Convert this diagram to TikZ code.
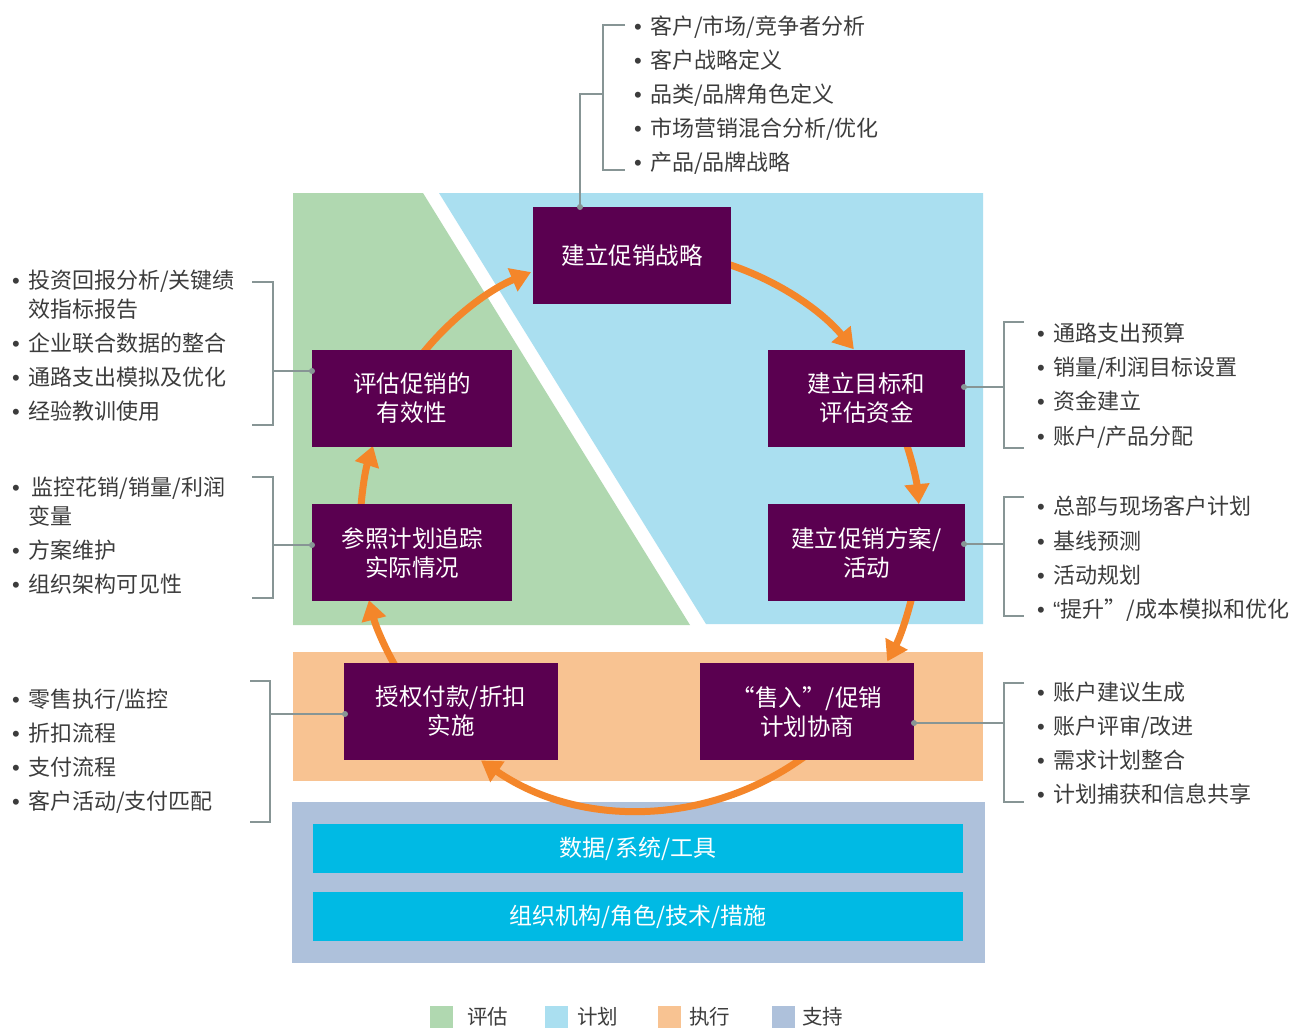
\documentclass[tikz,border=0pt]{standalone}
\usepackage{fontspec}
\setmainfont{Noto Sans CJK SC}
\newfontfamily\bulfont{Liberation Sans}
\usetikzlibrary{arrows.meta}
\definecolor{pgreen}{HTML}{B0D8B0}
\definecolor{pblue}{HTML}{AADFF0}
\definecolor{porange}{HTML}{F8C392}
\definecolor{psteel}{HTML}{AEC1DB}
\definecolor{pcyan}{HTML}{00BAE4}
\definecolor{ppurple}{HTML}{5A0050}
\definecolor{parrow}{HTML}{F4862A}
\definecolor{pgray}{HTML}{879595}
\definecolor{ptext}{HTML}{3C3C3C}
\begin{document}
\begin{tikzpicture}[x=1pt,y=1pt,
  stepbox/.style={fill=ppurple, text=white, align=center, inner sep=0pt,
    font={\fontsize{23.5}{29}\selectfont}},
  bar/.style={fill=pcyan, text=white, inner sep=0pt, minimum width=650pt, minimum height=49pt,
    font={\fontsize{23}{29}\selectfont}},
  flow/.style={draw=parrow, line width=7pt, -{Triangle[width=24pt,length=20pt]}},
  brk/.style={draw=pgray, line width=1.6pt},
  dotc/.style={fill=pgray},
  item/.style={anchor=base west, inner sep=0pt, text=ptext, font={\fontsize{22}{26}\selectfont}},
  legtxt/.style={anchor=west, inner sep=0pt, text=ptext, font={\fontsize{20.5}{24}\selectfont}}
]
\newcommand{\bl}{\makebox[16pt][l]{\bulfont •}}
\useasboundingbox (0,0) rectangle (1297,-1028);
\fill[white] (0,0) rectangle (1297,-1028);
% regions
\fill[pgreen] (293,-193) -- (423,-193) -- (690,-625) -- (293,-625) -- cycle;
\fill[pblue] (439,-193) -- (983,-193) -- (983,-624) -- (706,-624) -- cycle;
\fill[porange] (293,-652) rectangle (983,-781);
\fill[psteel] (292,-802) rectangle (985,-963);
% arrows (cycle)
\coordinate (ctr) at (640,-530);
\path (ctr) ++(143:280) coordinate (a1s);
\path (ctr) ++(74:280) coordinate (a2s);
\path (ctr) ++(20:280) coordinate (a3s);
\path (ctr) ++(-11:280) coordinate (a4s);
\path (ctr) ++(-51:280) coordinate (a5s);
\path (ctr) ++(212:280) coordinate (a6s);
\path (ctr) ++(178:280) coordinate (a7s);
\draw[flow] (a1s) arc[start angle=143, end angle=112.9, radius=280pt];
\draw[flow] (a2s) arc[start angle=74, end angle=40.2, radius=280pt];
\draw[flow] (a3s) arc[start angle=20, end angle=5.3, radius=280pt];
\draw[flow] (a4s) arc[start angle=-11, end angle=-28, radius=280pt];
\draw[flow] (a5s) arc[start angle=-51, end angle=-124.6, radius=280pt];
\draw[flow] (a6s) arc[start angle=212, end angle=194.5, radius=280pt];
\draw[flow] (a7s) arc[start angle=178, end angle=162.5, radius=280pt];
% boxes
\node[stepbox, minimum width=198pt, minimum height=97pt] (strat) at (632,-255.5) {建立促销战略};
\node[stepbox, minimum width=200pt, minimum height=97pt] (eval) at (412,-398.5) {评估促销的\\有效性};
\node[stepbox, minimum width=197pt, minimum height=97pt] (target) at (866.5,-398.5) {建立目标和\\评估资金};
\node[stepbox, minimum width=200pt, minimum height=97pt] (track) at (412,-552.5) {参照计划追踪\\实际情况};
\node[stepbox, minimum width=197pt, minimum height=97pt] (plan) at (866.5,-552.5) {建立促销方案/\\活动};
\node[stepbox, minimum width=214pt, minimum height=97pt] (auth) at (451,-711.5) {授权付款/折扣\\实施};
\node[stepbox, minimum width=214pt, minimum height=97pt] (sellin) at (807,-711.5) {“售入”/促销\\计划协商};
\node[bar] (bar1) at (638,-848.5) {数据/系统/工具};
\node[bar] (bar2) at (638,-916.5) {组织机构/角色/技术/措施};
% brackets
\draw[brk] (625,-25) -- (603,-25) -- (603,-170) -- (625,-170);
\draw[brk] (603,-94) -- (580,-94) -- (580,-207);
\fill[dotc] (580,-207) circle (3pt);
\draw[brk] (252,-282) -- (273,-282) -- (273,-425) -- (252,-425);
\draw[brk] (273,-371) -- (312,-371);
\fill[dotc] (312,-371) circle (3pt);
\draw[brk] (252,-477) -- (273,-477) -- (273,-598) -- (252,-598);
\draw[brk] (273,-545) -- (312,-545);
\fill[dotc] (312,-545) circle (3pt);
\draw[brk] (250,-681) -- (270,-681) -- (270,-822) -- (250,-822);
\draw[brk] (270,-714) -- (345,-714);
\fill[dotc] (345,-714) circle (3pt);
\draw[brk] (1024,-322) -- (1004,-322) -- (1004,-448) -- (1024,-448);
\draw[brk] (1004,-387) -- (964,-387);
\fill[dotc] (964,-387) circle (3pt);
\draw[brk] (1024,-497) -- (1004,-497) -- (1004,-616) -- (1024,-616);
\draw[brk] (1004,-544) -- (964,-544);
\fill[dotc] (964,-544) circle (3pt);
\draw[brk] (1024,-683) -- (1004,-683) -- (1004,-802) -- (1024,-802);
\draw[brk] (1004,-723) -- (914,-723);
\fill[dotc] (914,-723) circle (3pt);
% top list
\node[item] (t1) at (634,-34) {\bl 客户/市场/竞争者分析};
\node[item] (t2) at (634,-68) {\bl 客户战略定义};
\node[item] (t3) at (634,-102) {\bl 品类/品牌角色定义};
\node[item] (t4) at (634,-136) {\bl 市场营销混合分析/优化};
\node[item] (t5) at (634,-170) {\bl 产品/品牌战略};
% left lists
\node[item] (l11) at (12,-288) {\bl 投资回报分析/关键绩};
\node[item] (l12) at (28,-317) {效指标报告};
\node[item] (l13) at (12,-351) {\bl 企业联合数据的整合};
\node[item] (l14) at (12,-385) {\bl 通路支出模拟及优化};
\node[item] (l15) at (12,-419) {\bl 经验教训使用};
\node[item] (l21) at (12,-495) {\bl \,监控花销/销量/利润};
\node[item] (l22) at (28,-524) {变量};
\node[item] (l23) at (12,-558) {\bl 方案维护};
\node[item] (l24) at (12,-592) {\bl 组织架构可见性};
\node[item] (l31) at (12,-707) {\bl 零售执行/监控};
\node[item] (l32) at (12,-741) {\bl 折扣流程};
\node[item] (l33) at (12,-775) {\bl 支付流程};
\node[item] (l34) at (12,-809) {\bl 客户活动/支付匹配};
% right lists
\node[item] (r11) at (1037,-341) {\bl 通路支出预算};
\node[item] (r12) at (1037,-375) {\bl 销量/利润目标设置};
\node[item] (r13) at (1037,-409) {\bl 资金建立};
\node[item] (r14) at (1037,-444) {\bl 账户/产品分配};
\node[item] (r21) at (1037,-514) {\bl 总部与现场客户计划};
\node[item] (r22) at (1037,-549) {\bl 基线预测};
\node[item] (r23) at (1037,-583) {\bl 活动规划};
\node[item] (r24) at (1037,-617) {\bl {\bulfont “}提升”/成本模拟和优化};
\node[item] (r31) at (1037,-700) {\bl 账户建议生成};
\node[item] (r32) at (1037,-734) {\bl 账户评审/改进};
\node[item] (r33) at (1037,-768) {\bl 需求计划整合};
\node[item] (r34) at (1037,-802) {\bl 计划捕获和信息共享};
% legend
\fill[pgreen] (430,-1006) rectangle (453,-1028);
\fill[pblue] (545,-1006) rectangle (568,-1028);
\fill[porange] (658,-1006) rectangle (681,-1028);
\fill[psteel] (772,-1006) rectangle (795,-1028);
\node[legtxt] (g1) at (467,-1017) {评估};
\node[legtxt] (g2) at (577,-1017) {计划};
\node[legtxt] (g3) at (689,-1017) {执行};
\node[legtxt] (g4) at (802,-1017) {支持};
\end{tikzpicture}
\end{document}
